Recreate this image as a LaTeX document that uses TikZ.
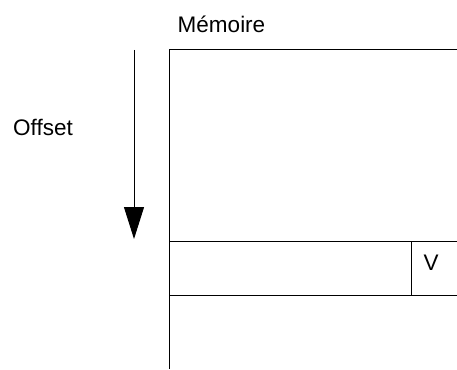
\documentclass[tikz,border=0pt]{standalone}
\usepackage{fontspec}
\setmainfont{Liberation Sans}
\usetikzlibrary{arrows.meta}
\begin{document}
\begin{tikzpicture}[x=1pt,y=-1pt,
  lbl/.style={anchor=base,inner sep=0pt,font=\fontsize{22.5}{27}\selectfont},
  edge/.style={line width=1pt,line cap=butt}]
\useasboundingbox (0,0) rectangle (457,369);
% labels
\node[lbl] (mem) at (221.5,33) {Mémoire};
\node[lbl] (off) at (43,135) {Offset};
\node[lbl] (v) at (431,270) {V};
% offset arrow
\coordinate (as) at (134,50);
\coordinate (ae) at (134,239);
\draw[edge,-{Triangle[length=32pt,width=20pt]}] (as) -- (ae);
% memory block
\coordinate (tl) at (169,50);
\coordinate (tr) at (457,50);
\coordinate (bl) at (169,369);
\draw[edge] (tr) -- (tl) -- (bl);
\coordinate (c1l) at (169,241);
\coordinate (c1r) at (457,241);
\coordinate (c2l) at (169,295);
\coordinate (c2r) at (457,295);
\draw[edge] (c1l) -- (c1r);
\draw[edge] (c2l) -- (c2r);
\coordinate (d1) at (411.5,241);
\coordinate (d2) at (411.5,295);
\draw[edge] (d1) -- (d2);
\end{tikzpicture}
\end{document}
